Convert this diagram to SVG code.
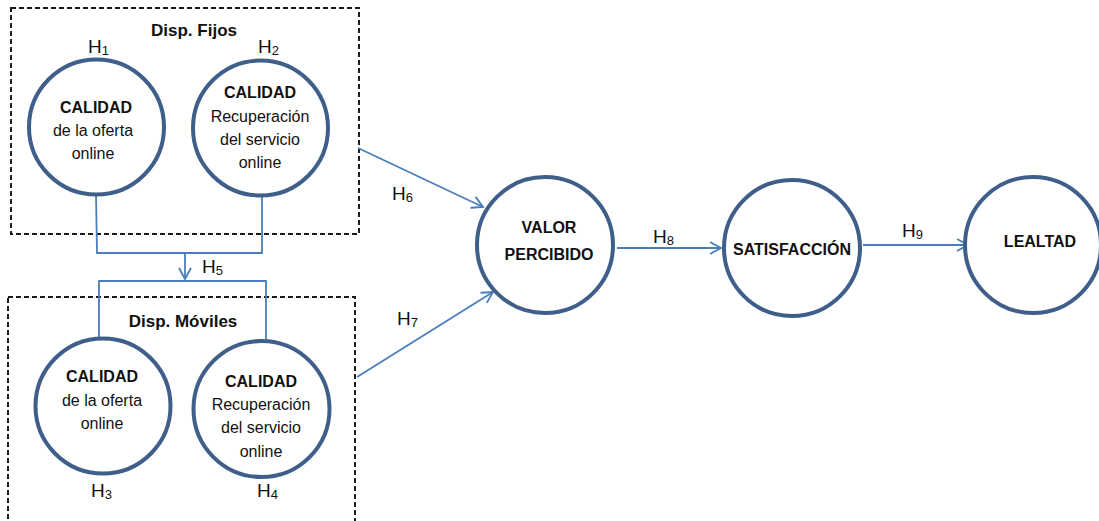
<svg xmlns="http://www.w3.org/2000/svg" width="1099" height="521" viewBox="0 0 1099 521">
  <style>
    .node { fill: #ffffff; stroke: #3F5F8A; stroke-width: 4; }
    .group { fill: none; stroke: #1a1a1a; stroke-width: 2; stroke-dasharray: 5 3; }
    .edge { fill: none; stroke: #4A7EBB; stroke-width: 1.8; }
    text { font-family: "Liberation Sans", Arial, sans-serif; fill: #111111; text-anchor: middle; }
    .b { font-weight: bold; font-size: 16px; }
    .t { font-size: 16px; }
    .g { font-weight: bold; font-size: 17px; }
    .h { font-size: 19px; text-anchor: start; }
    .s { font-size: 13px; }
  </style>
  <defs>
    <marker id="arrow" markerWidth="14" markerHeight="14" refX="12" refY="7" orient="auto" markerUnits="userSpaceOnUse">
      <path d="M1,1 L12,7 L1,13" fill="none" stroke="#4A7EBB" stroke-width="1.8"/>
    </marker>
  </defs>

  <!-- group boxes -->
  <g id="fixed-devices">
    <rect class="group" x="11" y="8" width="348" height="226"/>
    <text class="g" x="194" y="36">Disp. Fijos</text>
  </g>
  <g id="mobile-devices">
    <rect class="group" x="8" y="297" width="347" height="240"/>
    <text class="g" x="183" y="327">Disp. Móviles</text>
  </g>

  <!-- connectors -->
  <g id="connectors">
    <polyline class="edge" points="96,194 97,253 262,253 262,197"/>
    <line class="edge" x1="185" y1="253" x2="185" y2="279" marker-end="url(#arrow)"/>
    <polyline class="edge" points="99,337 99,281 266,281 266,339"/>
    <line class="edge" x1="358" y1="148" x2="483" y2="207" marker-end="url(#arrow)"/>
    <line class="edge" x1="357" y1="377" x2="493" y2="292" marker-end="url(#arrow)"/>
    <line class="edge" x1="617" y1="248" x2="721" y2="248" marker-end="url(#arrow)"/>
    <line class="edge" x1="863" y1="245" x2="968" y2="245" marker-end="url(#arrow)"/>
    <text class="h" x="202" y="273">H<tspan class="s" dy="2">5</tspan></text>
    <text class="h" x="392" y="200">H<tspan class="s" dy="2">6</tspan></text>
    <text class="h" x="397" y="325">H<tspan class="s" dy="2">7</tspan></text>
    <text class="h" x="653" y="243">H<tspan class="s" dy="2">8</tspan></text>
    <text class="h" x="902" y="237">H<tspan class="s" dy="2">9</tspan></text>
  </g>

  <g id="fixed-offer">
    <circle class="node" cx="96.5" cy="127" r="67.5"/>
    <text class="h" x="88" y="53">H<tspan class="s" dy="2">1</tspan></text>
    <text class="b" x="96" y="113">CALIDAD</text>
    <text class="t" x="93" y="136">de la oferta</text>
    <text class="t" x="93" y="159">online</text>
  </g>
  <g id="fixed-recovery">
    <circle class="node" cx="260.5" cy="128" r="67.5"/>
    <text class="h" x="258" y="53">H<tspan class="s" dy="2">2</tspan></text>
    <text class="b" x="260" y="98">CALIDAD</text>
    <text class="t" x="260" y="122">Recuperación</text>
    <text class="t" x="260" y="145">del servicio</text>
    <text class="t" x="260" y="168">online</text>
  </g>
  <g id="mobile-offer">
    <circle class="node" cx="103" cy="406" r="67.5"/>
    <text class="h" x="91" y="497">H<tspan class="s" dy="2">3</tspan></text>
    <text class="b" x="102" y="382">CALIDAD</text>
    <text class="t" x="102" y="406">de la oferta</text>
    <text class="t" x="102" y="429">online</text>
  </g>
  <g id="mobile-recovery">
    <circle class="node" cx="261.5" cy="409" r="68"/>
    <text class="h" x="257" y="497">H<tspan class="s" dy="2">4</tspan></text>
    <text class="b" x="261" y="387">CALIDAD</text>
    <text class="t" x="261" y="410">Recuperación</text>
    <text class="t" x="261" y="433">del servicio</text>
    <text class="t" x="261" y="457">online</text>
  </g>
  <g id="perceived-value">
    <circle class="node" cx="545" cy="245" r="68"/>
    <text class="b" x="549" y="233">VALOR</text>
    <text class="b" x="549" y="260">PERCIBIDO</text>
  </g>
  <g id="satisfaction">
    <circle class="node" cx="792" cy="248" r="68"/>
    <text class="b" x="792" y="255">SATISFACCIÓN</text>
  </g>
  <g id="loyalty">
    <circle class="node" cx="1033" cy="245" r="68"/>
    <text class="b" x="1040" y="247">LEALTAD</text>
  </g>
</svg>
